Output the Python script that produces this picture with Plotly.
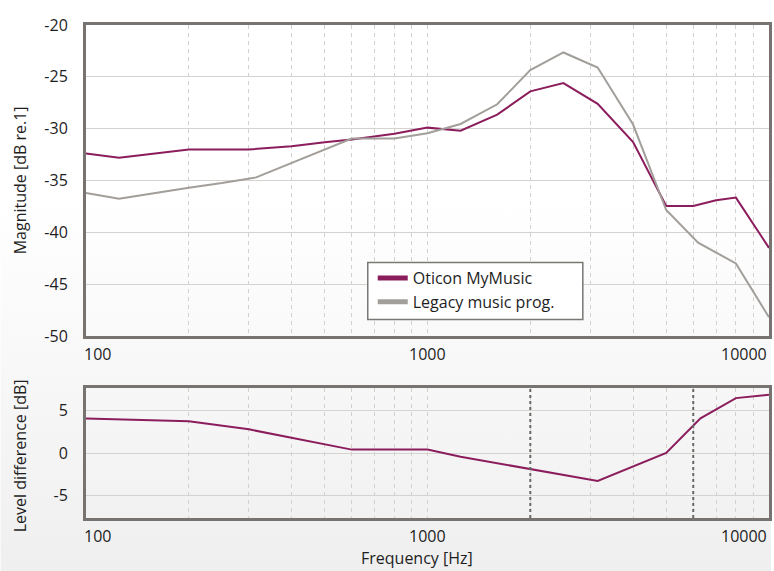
import base64
import math
import plotly.graph_objects as go
from plotly.subplots import make_subplots

# ---------------- data ----------------
mymusic_freq = [100, 125, 200, 300, 400, 500, 600, 800, 1000, 1250, 1600, 2000,
                2500, 3150, 4000, 5000, 6000, 7000, 8000, 10000]
mymusic_db = [-32.4, -32.8, -32.0, -32.0, -31.7, -31.3, -31.05, -30.5, -29.9, -30.2,
              -28.65, -26.4, -25.6, -27.6, -31.3, -37.45, -37.45, -36.9, -36.65, -41.5]

legacy_freq = [100, 125, 200, 250, 315, 600, 800, 1000, 1250, 1600, 2000, 2500,
               3150, 4000, 5000, 6200, 8000, 10000]
legacy_db = [-36.2, -36.75, -35.7, -35.25, -34.7, -30.95, -30.95, -30.45, -29.55,
             -27.65, -24.35, -22.65, -24.1, -29.6, -37.85, -41.0, -43.0, -48.2]

diff_freq = [100, 200, 300, 400, 600, 1000, 1250, 3150, 5000, 6300, 8000, 10000]
diff_db = [4.1, 3.75, 2.8, 1.8, 0.4, 0.4, -0.45, -3.3, 0.0, 4.1, 6.5, 6.9]

marker_freq = [2000, 6000]          # dark dotted reference lines (lower panel)

series_names = ["Oticon MyMusic", "Legacy music prog."]
x_tick_values = [100, 1000, 10000]
x_tick_labels = ["100", "1000", "10000"]
top_y_ticks = [-20, -25, -30, -35, -40, -45, -50]
top_y_labels = ["-20", "-25", "-30", "-35", "-40", "-45", "-50"]
bot_y_ticks = [5, 0, -5]
bot_y_labels = ["5", "0", "-5"]
x_title = "Frequency [Hz]"
top_y_title = "Magnitude [dB re.1]"
bot_y_title = "Level difference [dB]"

# ---------------- style ----------------
PURPLE = "#8B1D5C"
GREY = "#A29E9A"
BORDER = "#767370"
HGRID = "#D5D3CF"
VGRID = "#D3D1CD"
TEXT = "#1E1E1E"
FONT = "Open Sans"
FS = 16

W, H = 774, 571
L, R, T, B = 86, 2, 25, 53
plot_w = W - L - R
plot_h = H - T - B
top_lo = (518 - 336) / plot_h
bot_hi = (518 - 388) / plot_h


def px_x(p):
    return (p - L) / plot_w


def px_y(p):
    return (518 - p) / plot_h


grid_vals = [m * 10 ** e for e in (2, 3) for m in range(1, 10)] + [10000]

fig = make_subplots(rows=2, cols=1, shared_xaxes=False, vertical_spacing=0.0)

fig.add_trace(go.Scatter(x=mymusic_freq, y=mymusic_db, mode="lines", showlegend=False,
                         line=dict(color=PURPLE, width=2)), row=1, col=1)
fig.add_trace(go.Scatter(x=legacy_freq, y=legacy_db, mode="lines", showlegend=False,
                         line=dict(color=GREY, width=2)), row=1, col=1)
fig.add_trace(go.Scatter(x=diff_freq, y=diff_db, mode="lines", showlegend=False,
                         line=dict(color=PURPLE, width=2)), row=2, col=1)
# legend entries with the thick swatches of the original
for name, col in zip(series_names, [PURPLE, GREY]):
    fig.add_trace(go.Scatter(x=[None], y=[None], mode="lines", name=name,
                             line=dict(color=col, width=5)), row=1, col=1)

xcommon = dict(type="log", range=[2, 4], tickvals=grid_vals, showticklabels=False,
               showgrid=True, gridcolor=VGRID, griddash="4px,4px", gridwidth=1,
               showline=True, mirror=True, linewidth=3, linecolor=BORDER,
               zeroline=False, ticks="")
fig.update_layout(xaxis=dict(domain=[0, 1], **xcommon),
                  xaxis2=dict(domain=[0, 1], **xcommon))

ycommon = dict(showgrid=True, gridcolor=HGRID, gridwidth=1.2, zeroline=False,
               showline=True, mirror=True, linewidth=3, linecolor=BORDER, ticks="",
               tickfont=dict(family=FONT, size=FS, color=TEXT), ticklabelstandoff=12)
fig.update_layout(
    yaxis=dict(domain=[top_lo, 1], range=[-50, -20], tickvals=top_y_ticks,
               ticktext=top_y_labels, **ycommon),
    yaxis2=dict(domain=[0, bot_hi], range=[-7.7, 7.7], tickvals=bot_y_ticks,
                ticktext=bot_y_labels, **ycommon),
)

# dark dotted markers in lower panel
for f in marker_freq:
    fig.add_shape(type="line", xref="x2", yref="y2 domain", x0=f, x1=f, y0=0, y1=1,
                  line=dict(color="#6A6866", width=2, dash="3px,3px"), layer="above")

# legend frame (drawn as a box so it can be as wide as in the original)
fig.add_shape(type="rect", xref="paper", yref="paper", x0=px_x(369), x1=px_x(585),
              y0=px_y(319.5), y1=px_y(262.5), fillcolor="#ffffff",
              line=dict(color="#7A7874", width=1.5), layer="above")

# x tick labels (first left-aligned, last right-aligned as in the original)
anchors = ["left", "center", "right"]
shifts = [-4, 0, 0]
for ylab in [px_y(354), px_y(535.5)]:
    for v, t, a, s in zip(x_tick_values, x_tick_labels, anchors, shifts):
        fig.add_annotation(x=math.log10(v), xref="x", y=ylab, yref="paper", text=t,
                           showarrow=False, xanchor=a, yanchor="middle", xshift=s,
                           font=dict(family=FONT, size=FS, color=TEXT))

fig.add_annotation(x=px_x(418), xref="paper", y=px_y(571), yref="paper",
                   text=x_title, showarrow=False, xanchor="center", yanchor="bottom",
                   font=dict(family=FONT, size=FS, color=TEXT))
fig.add_annotation(x=px_x(20), xref="paper", y=px_y(180), yref="paper",
                   text=top_y_title, showarrow=False, textangle=-90, xanchor="center",
                   yanchor="middle", font=dict(family=FONT, size=FS, color=TEXT))
fig.add_annotation(x=px_x(20), xref="paper", y=px_y(456), yref="paper",
                   text=bot_y_title, showarrow=False, textangle=-90, xanchor="center",
                   yanchor="middle", font=dict(family=FONT, size=FS, color=TEXT))

# gradient page background
svg = ('<svg xmlns="http://www.w3.org/2000/svg" width="100" height="100" viewBox="0 0 100 100" '
       'preserveAspectRatio="none"><defs><linearGradient id="g" x1="0" y1="0" x2="0" y2="1">'
       '<stop offset="0" stop-color="#ffffff"/><stop offset="0.35" stop-color="#ffffff"/>'
       '<stop offset="1" stop-color="#efefef"/></linearGradient></defs>'
       '<rect width="100" height="100" fill="url(#g)"/></svg>')
uri = "data:image/svg+xml;base64," + base64.b64encode(svg.encode()).decode()
fig.add_layout_image(source=uri, xref="paper", yref="paper", x=-L / plot_w, y=1 + T / plot_h,
                     sizex=W / plot_w, sizey=H / plot_h, sizing="stretch", xanchor="left",
                     yanchor="top", layer="below")

fig.update_layout(
    width=W, height=H,
    margin=dict(l=L, r=R, t=T, b=B),
    paper_bgcolor="#ffffff", plot_bgcolor="rgba(0,0,0,0)",
    font=dict(family=FONT, size=FS, color=TEXT),
    legend=dict(x=px_x(374), y=px_y(261), xanchor="left", yanchor="top",
                bgcolor="rgba(0,0,0,0)", borderwidth=0,
                font=dict(family=FONT, size=FS, color=TEXT), tracegroupgap=0,
                itemwidth=30),
)

fig.write_html("out.html", config={"displayModeBar": False},
               post_script="document.body.style.margin='0px';")
